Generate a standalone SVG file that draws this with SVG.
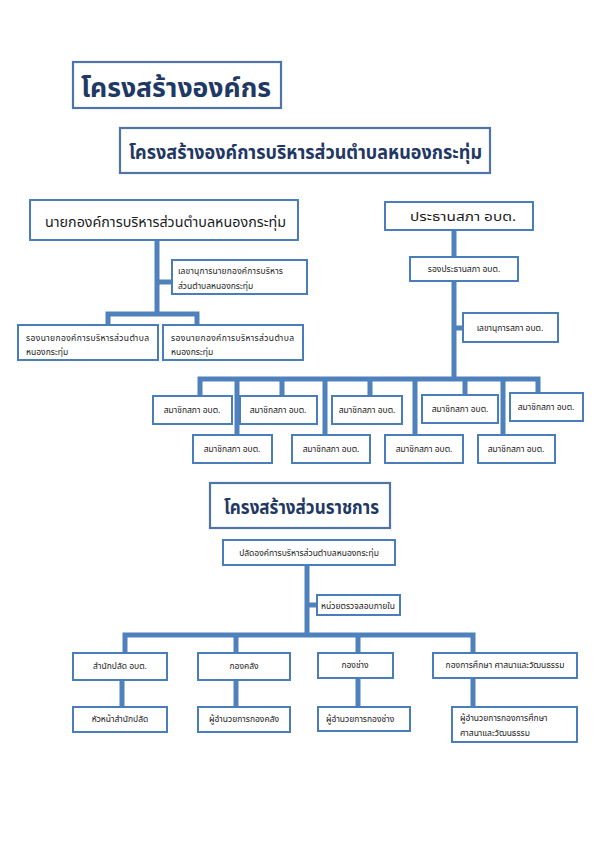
<svg xmlns="http://www.w3.org/2000/svg" width="595" height="842" viewBox="0 0 595 842">
<style>
.bx{fill:#ffffff;stroke:#4a7ebb;stroke-width:2}
.tb{fill:#ffffff;stroke:#4f74a8;stroke-width:2.2}
.cn{fill:none;stroke:#4f81bd;stroke-width:5;stroke-linecap:butt}
.t1{font-family:"Noto Sans Thai","Tahoma","Liberation Sans",sans-serif;font-weight:bold;fill:#1f3864}
.nt{font-family:"Noto Sans Thai","Tahoma","Liberation Sans",sans-serif;fill:#1a1a1a}
</style>
<rect width="595" height="842" fill="#ffffff"/>

<g id="connectors">
  <path class="cn" d="M157 241 V314 M108 325 V314 H197 V325 M157 282 H172"/>
  <path class="cn" d="M454 230 V257 M454 281 V379 M454 328 H463"/>
  <path class="cn" d="M200 396 V379 H538 V393 M282 379 V396 M370 379 V396 M465 379 V395 M237 379 V435 M325 379 V435 M415 379 V435 M503 379 V435"/>
  <path class="cn" d="M307 564 V635 M307 605 H317 M125 653 V635 H473 V653 M236 635 V653 M358 635 V653"/>
  <path class="cn" d="M122 680 V707 M236 680 V707 M358 678 V707 M473 678 V707"/>
</g>

<g id="title1">
  <rect class="tb" x="73" y="62" width="208" height="46"/>
  <text class="t1" x="81" y="97" font-size="27" textLength="190" lengthAdjust="spacingAndGlyphs">โครงสร้างองค์กร</text>
</g>
<g id="title2">
  <rect class="tb" x="120" y="128" width="370" height="45"/>
  <text class="t1" x="129" y="159" font-size="19" textLength="353" lengthAdjust="spacingAndGlyphs">โครงสร้างองค์การบริหารส่วนตำบลหนองกระทุ่ม</text>
</g>

<g id="mayor">
  <rect class="bx" x="30" y="200" width="268" height="40"/>
  <text class="nt" x="45" y="227" font-size="14" textLength="241" lengthAdjust="spacingAndGlyphs">นายกองค์การบริหารส่วนตำบลหนองกระทุ่ม</text>
</g>
<g id="mayor-secretary">
  <rect class="bx" x="172" y="260" width="135" height="34"/>
  <text class="nt" x="178" y="274" font-size="8.5" textLength="105">เลขานุการนายกองค์การบริหาร</text>
  <text class="nt" x="178" y="289" font-size="8.5">ส่วนตำบลหนองกระทุ่ม</text>
</g>
<g id="deputy-1">
  <rect class="bx" x="18" y="325" width="140" height="35"/>
  <text class="nt" x="26" y="341" font-size="8.5" textLength="123">รองนายกองค์การบริหารส่วนตำบล</text>
  <text class="nt" x="26" y="355" font-size="8.5">หนองกระทุ่ม</text>
</g>
<g id="deputy-2">
  <rect class="bx" x="163" y="325" width="140" height="35"/>
  <text class="nt" x="171" y="341" font-size="8.5" textLength="123">รองนายกองค์การบริหารส่วนตำบล</text>
  <text class="nt" x="171" y="355" font-size="8.5">หนองกระทุ่ม</text>
</g>

<g id="council-chair">
  <rect class="bx" x="385" y="202" width="148" height="28"/>
  <text class="nt" x="410" y="221" font-size="13" textLength="106" lengthAdjust="spacingAndGlyphs">ประธานสภา อบต.</text>
</g>
<g id="council-vice">
  <rect class="bx" x="410" y="257" width="108" height="24"/>
  <text class="nt" x="464" y="272" font-size="8.5" text-anchor="middle">รองประธานสภา อบต.</text>
</g>
<g id="council-secretary">
  <rect class="bx" x="463" y="313" width="95" height="29"/>
  <text class="nt" x="510" y="331" font-size="8.5" text-anchor="middle">เลขานุการสภา อบต.</text>
</g>

<g id="member-1"><rect class="bx" x="153" y="396" width="79" height="28"/><text class="nt" x="192" y="413" font-size="8.5" text-anchor="middle">สมาชิกสภา อบต.</text></g>
<g id="member-2"><rect class="bx" x="240" y="396" width="77" height="28"/><text class="nt" x="278" y="413" font-size="8.5" text-anchor="middle">สมาชิกสภา อบต.</text></g>
<g id="member-3"><rect class="bx" x="332" y="396" width="70" height="28"/><text class="nt" x="367" y="413" font-size="8.5" text-anchor="middle">สมาชิกสภา อบต.</text></g>
<g id="member-4"><rect class="bx" x="422" y="395" width="76" height="28"/><text class="nt" x="460" y="412" font-size="8.5" text-anchor="middle">สมาชิกสภา อบต.</text></g>
<g id="member-5"><rect class="bx" x="510" y="393" width="73" height="28"/><text class="nt" x="546" y="410" font-size="8.5" text-anchor="middle">สมาชิกสภา อบต.</text></g>
<g id="member-6"><rect class="bx" x="193" y="435" width="79" height="28"/><text class="nt" x="232" y="452" font-size="8.5" text-anchor="middle">สมาชิกสภา อบต.</text></g>
<g id="member-7"><rect class="bx" x="292" y="435" width="78" height="28"/><text class="nt" x="331" y="452" font-size="8.5" text-anchor="middle">สมาชิกสภา อบต.</text></g>
<g id="member-8"><rect class="bx" x="385" y="435" width="78" height="28"/><text class="nt" x="424" y="452" font-size="8.5" text-anchor="middle">สมาชิกสภา อบต.</text></g>
<g id="member-9"><rect class="bx" x="478" y="435" width="77" height="28"/><text class="nt" x="516" y="452" font-size="8.5" text-anchor="middle">สมาชิกสภา อบต.</text></g>

<g id="title3">
  <rect class="tb" x="210" y="483" width="180" height="45"/>
  <text class="t1" x="224" y="514" font-size="19" textLength="155" lengthAdjust="spacingAndGlyphs">โครงสร้างส่วนราชการ</text>
</g>
<g id="chief-admin">
  <rect class="bx" x="223" y="540" width="172" height="25"/>
  <text class="nt" x="309" y="556" font-size="8.5" text-anchor="middle">ปลัดองค์การบริหารส่วนตำบลหนองกระทุ่ม</text>
</g>
<g id="internal-audit">
  <rect class="bx" x="317" y="595" width="83" height="20"/>
  <text class="nt" x="358" y="609" font-size="8.5" text-anchor="middle">หน่วยตรวจสอบภายใน</text>
</g>

<g id="office-chief"><rect class="bx" x="73" y="653" width="94" height="27"/><text class="nt" x="120" y="669" font-size="8.5" text-anchor="middle">สำนักปลัด อบต.</text></g>
<g id="finance"><rect class="bx" x="198" y="653" width="92" height="27"/><text class="nt" x="244" y="669" font-size="8.5" text-anchor="middle">กองคลัง</text></g>
<g id="engineering"><rect class="bx" x="318" y="653" width="75" height="25"/><text class="nt" x="355" y="668" font-size="8.5" text-anchor="middle">กองช่าง</text></g>
<g id="education"><rect class="bx" x="433" y="653" width="144" height="25"/><text class="nt" x="505" y="668" font-size="8.5" text-anchor="middle">กองการศึกษา ศาสนาและวัฒนธรรม</text></g>

<g id="office-head"><rect class="bx" x="73" y="707" width="94" height="25"/><text class="nt" x="120" y="722" font-size="8.5" text-anchor="middle">หัวหน้าสำนักปลัด</text></g>
<g id="finance-director"><rect class="bx" x="198" y="707" width="92" height="25"/><text class="nt" x="244" y="722" font-size="8.5" text-anchor="middle">ผู้อำนวยการกองคลัง</text></g>
<g id="engineering-director"><rect class="bx" x="318" y="707" width="92" height="24"/><text class="nt" x="326" y="722" font-size="8.5">ผู้อำนวยการกองช่าง</text></g>
<g id="education-director"><rect class="bx" x="452" y="707" width="125" height="35"/><text class="nt" x="460" y="721" font-size="8.5">ผู้อำนวยการกองการศึกษา</text><text class="nt" x="460" y="736" font-size="8.5">ศาสนาและวัฒนธรรม</text></g>
</svg>
